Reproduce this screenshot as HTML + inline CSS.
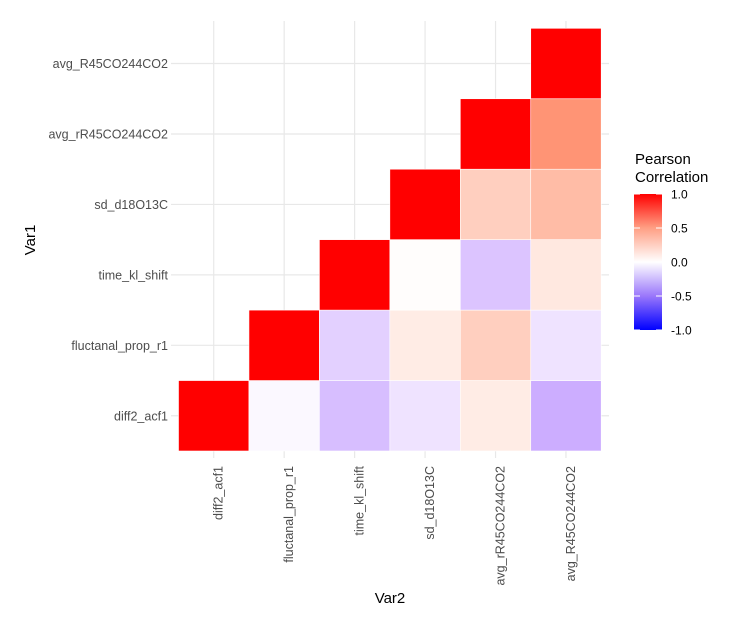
<!DOCTYPE html>
<html><head><meta charset="utf-8"><style>
body{margin:0;background:#fff;}
svg{display:block;font-family:"Liberation Sans",sans-serif;}
</style></head><body>
<svg id="chart" width="733" height="628" viewBox="0 0 733 628" xmlns="http://www.w3.org/2000/svg">
<defs>
<linearGradient id="lg" x1="0" y1="1" x2="0" y2="0">
<stop offset="0" stop-color="#0000FF"/><stop offset="0.25" stop-color="#9A77FB"/><stop offset="0.5" stop-color="#FFFFFF"/><stop offset="0.75" stop-color="#FF9F84"/><stop offset="1" stop-color="#FF0000"/>
</linearGradient>
</defs>
<g id="grid"></g>
<g id="cells"></g>
<g id="ylab"></g>
<g id="xlab"></g>
<text x="0" y="0" transform="translate(35,240) rotate(-90)" text-anchor="middle" font-size="15" fill="#000">Var1</text>
<text x="390" y="603" text-anchor="middle" font-size="15" fill="#000">Var2</text>
<g>
<text x="635" y="164" font-size="15" fill="#000">Pearson</text>
<text x="635" y="182" font-size="15" fill="#000">Correlation</text>
<rect x="634" y="194" width="28" height="136" fill="url(#lg)"/>
<g id="leg"></g>
</g>
</svg>
<script>
const vars = ["diff2_acf1","fluctanal_prop_r1","time_kl_shift","sd_d18O13C","avg_rR45CO244CO2","avg_R45CO244CO2"];
// cells: [var2 index, var1 index, value]
const rowIdx = [0,1,1,2,2,2,3,3,3,3,4,4,4,4,4,5,5,5,5,5,5];
const colIdx = [0,0,1,0,1,2,0,1,2,3,0,1,2,3,4,0,1,2,3,4,5];
const values = [1,-0.03,1,-0.28,-0.2,1,-0.12,0.1,0.01,1,0.1,0.25,-0.25,0.25,1,-0.35,-0.12,0.12,0.35,0.55,1];
const legendTicks = [1,0.5,0,-0.5,-1];
const legendLabels = ["1.0","0.5","0.0","-0.5","-1.0"];

const NS="http://www.w3.org/2000/svg";
const x0=178.5, y1=451, cw=70.45;
const xPos=i=>x0+i*cw;
const yPos=j=>y1-(j+1)*cw;
function toLin(c){c/=255;return c<=0.04045?c/12.92:Math.pow((c+0.055)/1.055,2.4);}
function toS(c){c=c<=0.0031308?12.92*c:1.055*Math.pow(c,1/2.4)-0.055;return Math.max(0,Math.min(255,Math.round(c*255)));}
function rgb2lab(r,g,b){r=toLin(r);g=toLin(g);b=toLin(b);
let X=(0.4124*r+0.3576*g+0.1805*b)/0.95047,Y=0.2126*r+0.7152*g+0.0722*b,Z=(0.0193*r+0.1192*g+0.9505*b)/1.08883;
const f=t=>t>0.008856?Math.cbrt(t):7.787*t+16/116;
return [116*f(Y)-16,500*(f(X)-f(Y)),200*(f(Y)-f(Z))];}
function lab2rgb(L,a,b){let fy=(L+16)/116,fx=fy+a/500,fz=fy-b/200;
const fi=t=>t*t*t>0.008856?t*t*t:(t-16/116)/7.787;
let X=fi(fx)*0.95047,Y=fi(fy),Z=fi(fz)*1.08883;
let r=3.2406*X-1.5372*Y-0.4986*Z,g=-0.9689*X+1.8758*Y+0.0415*Z,bb=0.0557*X-0.2040*Y+1.0570*Z;
return `rgb(${toS(r)},${toS(g)},${toS(bb)})`;}
const LR=rgb2lab(255,0,0),LW=rgb2lab(255,255,255),LB=rgb2lab(0,0,255);
function col(v){const e=v>=0?LR:LB,t=Math.min(1,Math.abs(v));return lab2rgb(LW[0]+(e[0]-LW[0])*t,LW[1]+(e[1]-LW[1])*t,LW[2]+(e[2]-LW[2])*t);}
function mk(tag,attrs,parent){const e=document.createElementNS(NS,tag);for(const k in attrs)e.setAttribute(k,attrs[k]);parent.appendChild(e);return e;}

const grid=document.getElementById('grid');
for(let i=0;i<vars.length;i++){
  const cx=xPos(i)+cw/2, cy=yPos(i)+cw/2;
  const l1=mk('line',{x1:cx,x2:cx,y1:21,y2:458,stroke:'#e8e8e8','stroke-width':1.2},grid);
  
  
  const l2=mk('line',{x1:171,x2:609,y1:cy,y2:cy,stroke:'#e8e8e8','stroke-width':1.2},grid);
  
  
}
const cells=document.getElementById('cells');
for(let k=0;k<values.length;k++){
  const r=mk('rect',{x:xPos(rowIdx[k]),y:yPos(colIdx[k]),width:cw,height:cw,fill:col(values[k]),stroke:'#fff','stroke-width':0.6},cells);
  
  
}
const yl=document.getElementById('ylab'), xl=document.getElementById('xlab');
for(let i=0;i<vars.length;i++){
  const t=mk('text',{x:168,y:yPos(i)+cw/2+4.5,'text-anchor':'end','font-size':12.5,fill:'#4d4d4d'},yl);
  t.textContent=vars[i];
  
  
  const cx=xPos(i)+cw/2+9;
  const u=mk('text',{x:0,y:0,transform:`translate(${cx},466) rotate(-90)`,'text-anchor':'end','font-size':12.5,fill:'#4d4d4d'},xl);
  u.textContent=vars[i];
  
  
}
const leg=document.getElementById('leg');
for(let i=0;i<legendTicks.length;i++){
  const y=194+(1-legendTicks[i])/2*136;
  mk('line',{x1:634,x2:640,y1:y,y2:y,stroke:'#fff','stroke-width':1},leg);
  mk('line',{x1:656,x2:662,y1:y,y2:y,stroke:'#fff','stroke-width':1},leg);
  const t=mk('text',{x:671,y:y+4.5,'font-size':12,fill:'#000'},leg);
  t.textContent=legendLabels[i];
  
  
}
</script>
</body></html>
